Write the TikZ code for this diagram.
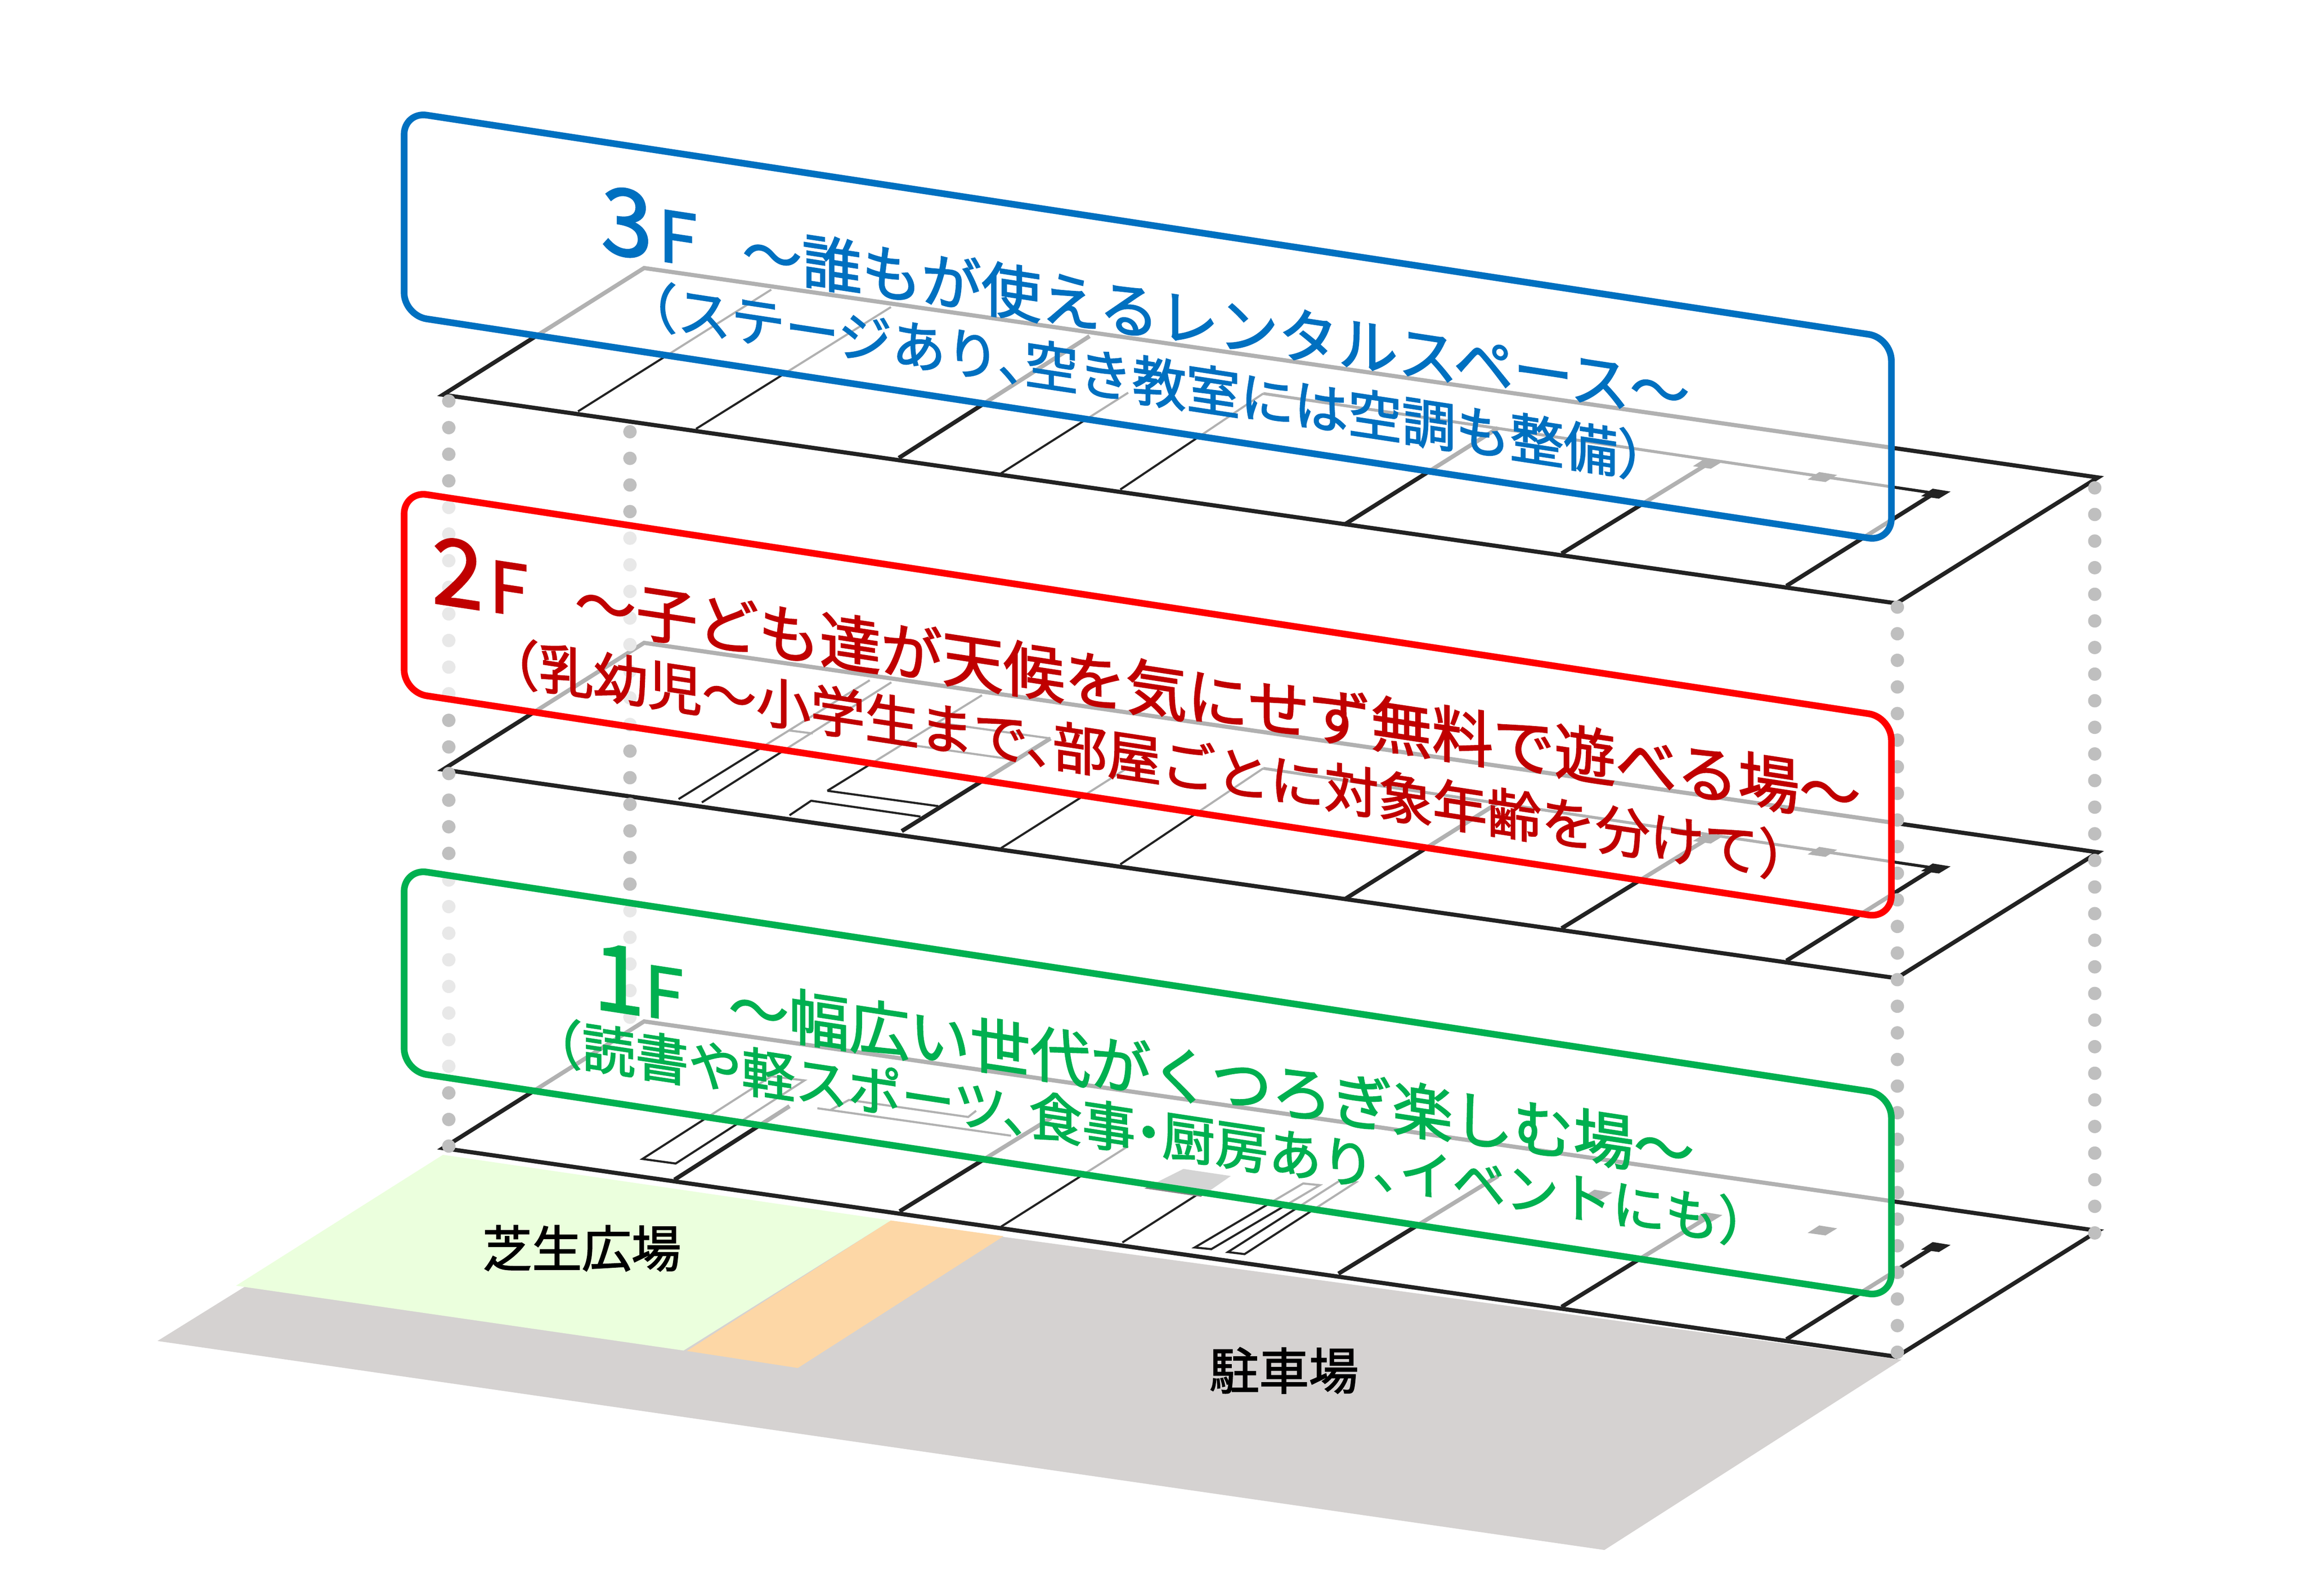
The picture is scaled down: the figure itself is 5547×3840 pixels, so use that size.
\documentclass[tikz,border=0pt]{standalone}
\usepackage{fontspec}
\newfontfamily\jp[FakeBold=2]{Noto Sans CJK JP}
\definecolor{cblue}{HTML}{0070C0}
\definecolor{cred}{HTML}{FF0000}
\definecolor{cdred}{HTML}{C00000}
\definecolor{cgreen}{HTML}{00B050}
\definecolor{cline}{HTML}{222222}
\definecolor{cdot}{HTML}{BFBFBF}
\definecolor{cground}{HTML}{D5D2D1}
\definecolor{clawn}{HTML}{EBFFDD}
\definecolor{cpath}{HTML}{FDD7A6}
\newcommand\szz[1]{\fontsize{#1}{#1}\selectfont}
\newcommand\ten{、\kern-.5em}
\newcommand\mk[3]{\fill[#3] (#1-36,#2+6) -- (#1-8,#2-12) -- (#1+35,#2-5) -- (#1+7,#2+12) -- cycle;}
\tikzset{
  thickwall/.style={cline,line width=.1cm},
  thinwall/.style={cline,line width=.05cm},
  dotcol/.style={cdot,line width=.32cm,line cap=round,dash pattern=on 0pt off .64cm},
  panel/.style={transform shape,yslant=-0.152,rounded corners=.55cm,line width=.16cm,fill=white,fill opacity=.65,draw opacity=1,minimum width=35.77cm,inner sep=0,outer sep=0},
  slanted/.style={transform shape,yslant=-0.152,anchor=base west,inner sep=0,outer sep=0,font=\jp},
  ground label/.style={inner sep=0,font=\jp\szz{34},text=black}
}
\begin{document}
\begin{tikzpicture}[x=.01cm,y=-.01cm]
\useasboundingbox (0,0) rectangle (5547,3840);
\fill[white] (0,0) rectangle (5547,3840);
% ground
\fill[cground] (379,3227) -- (1066,2800) -- (2418,2977) -- (4576,3272) -- (3861,3730) -- cycle;
\fill[clawn] (1066,2779) -- (2144,2937) -- (1645,3250) -- (568,3094) -- cycle;
\fill[cpath] (2144,2937) -- (2415,2975) -- (1920,3292) -- (1653,3251) -- cycle;
\node[ground label] (lawn) at (1400,3004) {芝生広場};
\node[ground label] (park) at (3090,3298) {駐車場};
% floors
\foreach \off in {0,902,1813}{
 \begin{scope}[shift={(0,\off)}]
  \draw[thickwall,line join=miter] (1066,950) -- (1550,645) -- (5049,1149) -- (4564,1452) -- cycle;
  \draw[thinwall] (2409,1139) -- (2715,945);
  \mk{4110}{1116}{cline}
  \mk{4386}{1148}{cline}
  \mk{4659}{1188}{cline}
  \draw[thickwall] (4299,1410) -- (4650,1190);
  \draw[thickwall] (3758,1332) -- (4110,1116);
 \end{scope}
}
% 3F
\draw[thinwall] (1391,990) -- (1856,697);
\draw[thinwall] (1675,1032) -- (2144,739);
\draw[thickwall] (2163,1102) -- (2622,809);
\draw[thinwall] (2696,1178) -- (3040,947);
\draw[thickwall] (3236,1262) -- (3605,1030);
\draw[line width=.07cm,cline] (3040,947) -- (4656,1187);
% 2F
\draw[thinwall] (1633,1923) -- (2093,1637);
\draw[thinwall] (1689,1931) -- (2145,1642);
\draw[thinwall] (1900,1758) -- (1956,1765);
\draw[thickwall] (2170,2000) -- (2528,1777);
\draw[thinwall] (1991,1903) -- (2363,1673);
\draw[thinwall] (1991,1903) -- (2258,1940);
\draw[thinwall] (1900,1962) -- (1952,1927) -- (2215,1965);
\draw[thinwall] (2256,1739) -- (2528,1777);
\draw[thinwall] (2172,1790) -- (2447,1829);
\draw[thinwall] (2696,2080) -- (3040,1849);
\draw[thickwall] (3236,2164) -- (3605,1932);
\draw[line width=.07cm,cline] (3040,1849) -- (4656,2089);
% 1F
\draw[thickwall] (1623,2839) -- (1900,2662);
\draw[thickwall] (2165,2915) -- (2530,2690);
\draw[thinwall] (1546,2789) -- (1626,2800) -- (1936,2600) -- (1856,2590) -- cycle;
\draw[thinwall] (1967,2667) -- (2433,2733);
\draw[thinwall] (1997,2672) -- (2043,2647) -- (2330,2688) -- (2349,2673);
\draw[thinwall] (2701,2990) -- (2920,2850);
\fill[cline!55!white] (2754,2860) -- (2848,2813) -- (2962,2830) -- (2890,2880) -- cycle;
\draw[thinwall] (2875,3002) -- (2915,3006) -- (3176,2852) -- (3136,2848) -- cycle;
\draw[thinwall] (2955,3013) -- (2995,3018) -- (3263,2845) -- (3223,2842) -- cycle;
\draw[thickwall] (3221,3065) -- (3605,2830);
\mk{3845}{2875}{cline}
% dotted verticals
\draw[dotcol] (1080,965) -- (1080,2770);
\draw[dotcol] (1516,1039) -- (1516,2450);
\draw[dotcol] (4566,1461) -- (4566,3265);
\draw[dotcol] (5041,1174) -- (5041,2975);
% panels
\node[panel,draw=cblue,minimum height=4.9cm] (box3) at (2762,786) {};
\node[panel,draw=cred,minimum height=4.84cm] (box2) at (2762,1696) {};
\node[panel,draw=cgreen,minimum height=4.87cm] (box1) at (2762,2606) {};
% texts
\node[slanted,text=cblue] (t3a) at (1447,606) {\szz{63}3\kern.14cm\szz{48}F\kern1.09cm\szz{40.9}〜誰もが使えるレンタルスペース〜};
\node[slanted,text=cblue] (t3b) at (1500,774) {\szz{36.9}（ステージあり\ten 空き教室には空調も整備）};
\node[slanted,text=cdred] (t2a) at (1040,1450) {\szz{63}2\kern.14cm\szz{48}F\kern1.13cm\szz{41.9}〜子ども達が天候を気にせず無料で遊べる場〜};
\node[slanted,text=cdred] (t2b) at (1167,1634) {\szz{37.15}（乳幼児〜小学生まで\ten 部屋ごとに対象年齢を分けて）};
\node[slanted,text=cgreen] (t1a) at (1428,2426) {\szz{63}1\szz{48}F\kern1.09cm\szz{41.3}〜幅広い世代がくつろぎ楽しむ場〜};
\node[slanted,text=cgreen] (t1b) at (1273,2546) {\szz{36.4}（読書や軽スポーツ\ten 食事\kern-.25em・\kern-.25em 厨房あり\ten イベントにも）};
\end{tikzpicture}
\end{document}
